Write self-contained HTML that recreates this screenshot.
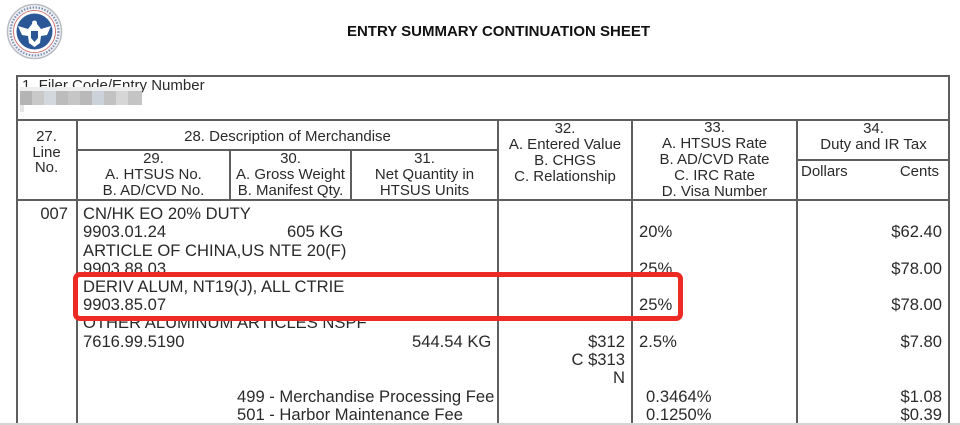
<!DOCTYPE html>
<html>
<head>
<meta charset="utf-8">
<style>
  html,body{margin:0;padding:0;background:#fff;}
  body{width:960px;height:425px;position:relative;overflow:hidden;font-family:"Liberation Sans",Arial,sans-serif;color:#2a2a2a;}
  .l{position:absolute;background:#5e5e5e;}
  .h{position:absolute;font-size:15px;line-height:16px;white-space:nowrap;text-align:center;color:#2a2a2a;}
  .t{position:absolute;font-size:16.6px;line-height:18px;white-space:nowrap;color:#2a2a2a;}
  .r{text-align:right;}
  .blk{position:absolute;height:14px;width:12px;top:91px;}
</style>
</head>
<body>

<!-- Logo -->
<svg style="position:absolute;left:4px;top:2px" width="60" height="60" viewBox="0 0 60 60">
  <circle cx="30.5" cy="29.5" r="27" fill="#f3f4f6" stroke="#b8bcc4" stroke-width="1.5"/>
  <circle cx="30.5" cy="29.5" r="21" fill="#fff" stroke="#c85a5a" stroke-width="0.8"/>
  <circle cx="30.5" cy="29.5" r="18" fill="#2b5797"/>
  <path d="M14 24 L24 27 L28 22 L33 22 L37 27 L47 24 L43 33 L37 34 L36 41 L30.5 45 L25 41 L24 34 L18 33 Z" fill="#fff"/>
  <path d="M27 29 L34 29 L34 36 L30.5 40 L27 36 Z" fill="#2b5797"/>
  <circle cx="30.5" cy="21" r="2.5" fill="#fff"/>
  <circle cx="30.5" cy="29.5" r="24" fill="none" stroke="#7d8fb5" stroke-width="2.2" stroke-dasharray="1.5 1.5"/>
</svg>

<!-- Title -->
<div style="position:absolute;left:0;width:997px;top:23px;text-align:center;font-weight:bold;font-size:15px;line-height:18px;color:#111;">ENTRY SUMMARY CONTINUATION SHEET</div>

<!-- Table lines -->
<div class="l" style="left:16px;top:75px;width:934px;height:2px;"></div>
<div class="l" style="left:16px;top:75px;width:2px;height:350px;"></div>
<div class="l" style="left:948px;top:75px;width:2px;height:350px;"></div>
<div class="l" style="left:16px;top:119px;width:934px;height:2px;"></div>
<div class="l" style="left:16px;top:199px;width:934px;height:2px;"></div>
<div class="l" style="left:76px;top:119px;width:2px;height:306px;"></div>
<div class="l" style="left:497px;top:119px;width:2px;height:306px;"></div>
<div class="l" style="left:631px;top:119px;width:2px;height:306px;"></div>
<div class="l" style="left:796px;top:119px;width:2px;height:306px;"></div>
<div class="l" style="left:76px;top:149px;width:422px;height:2px;"></div>
<div class="l" style="left:229px;top:149px;width:2px;height:51px;"></div>
<div class="l" style="left:350px;top:149px;width:2px;height:51px;"></div>
<div class="l" style="left:796px;top:159px;width:154px;height:2px;"></div>
<div style="position:absolute;left:0;top:423px;width:960px;height:2px;background:#d4d4d4;"></div>

<!-- Filer code -->
<div class="h" style="left:22px;top:78px;text-align:left;">1. Filer Code/Entry Number</div>
<div style="position:absolute;left:20px;top:87px;width:122px;height:4px;background:#eceef0;"></div>
<div class="blk" style="left:20px;background:#b4b4b4;"></div>
<div class="blk" style="left:32px;background:#c9c9c9;"></div>
<div class="blk" style="left:44px;background:#d3d8de;"></div>
<div class="blk" style="left:56px;background:#bcbcbc;"></div>
<div class="blk" style="left:68px;background:#c6c6c6;"></div>
<div class="blk" style="left:80px;background:#b9b9b9;"></div>
<div class="blk" style="left:92px;background:#ccd2da;"></div>
<div class="blk" style="left:104px;background:#c2c2c2;"></div>
<div class="blk" style="left:116px;background:#d6d6d6;"></div>
<div class="blk" style="left:128px;background:#c4c4c4;width:14px;"></div>
<div style="position:absolute;left:20px;top:105px;width:4px;height:7px;background:#e6e6e6;"></div>

<!-- Headers -->
<div class="h" style="left:16px;width:61px;top:129px;">27.</div>
<div class="h" style="left:16px;width:61px;top:145px;">Line</div>
<div class="h" style="left:16px;width:61px;top:160px;">No.</div>

<div class="h" style="left:77px;width:421px;top:129px;">28. Description of Merchandise</div>

<div class="h" style="left:77px;width:153px;top:151px;">29.<br>A. HTSUS No.<br>B. AD/CVD No.</div>
<div class="h" style="left:230px;width:121px;top:151px;">30.<br>A. Gross Weight<br>B. Manifest Qty.</div>
<div class="h" style="left:351px;width:147px;top:151px;">31.<br>Net Quantity in<br>HTSUS Units</div>

<div class="h" style="left:498px;width:134px;top:121px;">32.<br>A. Entered Value<br>B. CHGS<br>C. Relationship</div>
<div class="h" style="left:632px;width:165px;top:120px;">33.<br>A. HTSUS Rate<br>B. AD/CVD Rate<br>C. IRC Rate<br>D. Visa Number</div>
<div class="h" style="left:797px;width:153px;top:121px;">34.<br>Duty and IR Tax</div>
<div class="h" style="left:801px;top:164px;text-align:left;">Dollars</div>
<div class="h" style="left:860px;width:79px;top:164px;text-align:right;">Cents</div>

<!-- Body -->
<div class="t r" style="left:20px;width:48px;top:205px;">007</div>

<div class="t" style="left:83px;top:205px;">CN/HK EO 20% DUTY</div>
<div class="t" style="left:83px;top:223px;">9903.01.24</div>
<div class="t" style="left:287px;top:223px;">605 KG</div>
<div class="t" style="left:83px;top:241.5px;">ARTICLE OF CHINA,US NTE 20(F)</div>
<div class="t" style="left:83px;top:259.7px;">9903.88.03</div>
<div class="t" style="left:83px;top:278px;">DERIV ALUM, NT19(J), ALL CTRIE</div>
<div class="t" style="left:83px;top:296px;">9903.85.07</div>
<div class="t" style="left:83px;top:314px;">OTHER ALUMINUM ARTICLES NSPF</div>
<div class="t" style="left:83px;top:332.5px;">7616.99.5190</div>
<div class="t" style="left:412px;top:332.5px;">544.54 KG</div>
<div class="t" style="left:237px;top:387.5px;">499 - Merchandise Processing Fee</div>
<div class="t" style="left:237px;top:405.5px;">501 - Harbor Maintenance Fee</div>

<div class="t r" style="left:520px;width:105px;top:332.5px;">$312</div>
<div class="t r" style="left:520px;width:105px;top:351px;">C $313</div>
<div class="t r" style="left:520px;width:105px;top:369px;">N</div>

<div class="t" style="left:639px;top:223px;">20%</div>
<div class="t" style="left:639px;top:259.7px;">25%</div>
<div class="t" style="left:639px;top:296px;">25%</div>
<div class="t" style="left:639px;top:332.5px;">2.5%</div>
<div class="t" style="left:646px;top:387.5px;">0.3464%</div>
<div class="t" style="left:646px;top:405.5px;">0.1250%</div>

<div class="t r" style="left:820px;width:122px;top:223px;">$62.40</div>
<div class="t r" style="left:820px;width:122px;top:259.7px;">$78.00</div>
<div class="t r" style="left:820px;width:122px;top:296px;">$78.00</div>
<div class="t r" style="left:820px;width:122px;top:332.5px;">$7.80</div>
<div class="t r" style="left:820px;width:122px;top:387.5px;">$1.08</div>
<div class="t r" style="left:820px;width:122px;top:405.5px;">$0.39</div>

<!-- Red highlight box -->
<div style="position:absolute;left:73px;top:272px;width:610px;height:49px;box-sizing:border-box;border:5px solid #ee2a24;border-radius:7px;"></div>

</body>
</html>
